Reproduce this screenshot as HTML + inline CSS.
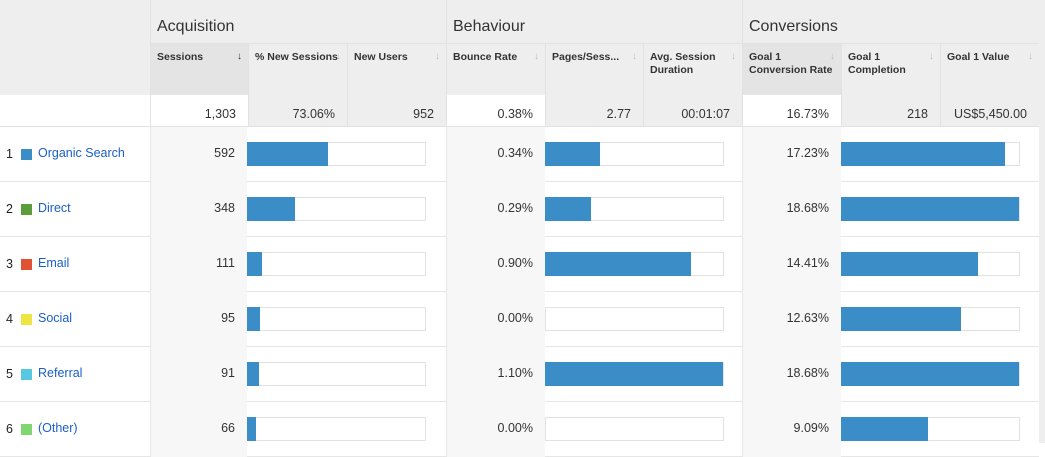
<!DOCTYPE html>
<html><head><meta charset="utf-8"><style>
body{margin:0;width:1045px;height:443px;overflow:hidden;background:#fff;font-family:"Liberation Sans",sans-serif;position:relative}
.a{position:absolute;box-sizing:border-box}
.grp{font-size:16px;color:#333;padding:18px 0 0 6px}
.sh{font-size:10.5px;font-weight:bold;color:#333;padding:7px 6px;line-height:13px}
.ar{position:absolute;right:6px;top:6px;color:#bbb;font-size:10px}
.num{font-size:12.5px;color:#333;text-align:right;padding-right:12px}
.lab{font-size:12.5px;color:#1a5fc7}
</style></head><body>
<div id="root"></div>
<script>
const channels=["Organic Search","Direct","Email","Social","Referral","(Other)"];
const chColors=["#3a8dc6","#5b9c3c","#e05232","#efe542","#58c8e0","#80d772"];
const sessions=[592,348,111,95,91,66];
const totalSessions=1303;
const bounce=["0.34%","0.29%","0.90%","0.00%","1.10%","0.00%"];
const pagesRel=[31,26,82,0,100,0];
const convRate=[17.23,18.68,14.41,12.63,18.68,9.09];
const totals=["1,303","73.06%","952","0.38%","2.77","00:01:07","16.73%","218","US$5,450.00"];
const heads=["Sessions","% New Sessions","New Users","Bounce Rate","Pages/Sess...","Avg. Session Duration","Goal 1 Conversion Rate","Goal 1 Completion","Goal 1 Value"];
const colX=[150,248,347,446,545,643,742,841,940,1039];
const R=document.getElementById('root');
function box(x,y,w,h,bg,cls,txt,name){const d=document.createElement('div');d.className='a '+(cls||'');
d.style.cssText+=`left:${x}px;top:${y}px;width:${w}px;height:${h}px;`+(bg?`background:${bg};`:'');
if(txt!==undefined)d.innerHTML=txt;


R.appendChild(d);return d;}
// header bg
box(0,0,1045,95,'#eeeeee','',undefined,'header-bg');
box(1039,95,6,348,'#eeeeee','',undefined,'right-gutter');
["Acquisition","Behaviour","Conversions"].forEach((g,i)=>{const b=box(colX[i*3],0,colX[i*3+3]-colX[i*3],44,null,'grp',g,'group-'+g.toLowerCase());b.style.borderLeft='1px solid #e2e2e2';b.style.borderBottom='1px solid #e2e2e2';});
heads.forEach((h,i)=>{const hl=(i==0||i==6);const b=box(colX[i],44,colX[i+1]-colX[i],51,hl?'#e4e4e4':null,'sh',h+`<span class="ar" style="color:${i==0?'#333':'#bbb'}">↓</span>`,'header-'+i);b.style.borderLeft='1px solid #e2e2e2';});
totals.forEach((t,i)=>{const w=(i==0||i==3||i==6);const b=box(colX[i],95,colX[i+1]-colX[i],32,w?'#fff':'#eeeeee','num',t,'total-'+i);b.style.paddingTop='12px';b.style.borderLeft='1px solid #e2e2e2';});
box(0,126,1039,1,'#e2e2e2','',undefined,'divider');
channels.forEach((c,r)=>{const y=127+r*55;
 box(0,y,1039,55,null,'',undefined,'row-'+r).style.borderBottom='1px solid #e6e6e6';
 box(6,y+20,12,16,null,'',String(r+1),'row-index').style.cssText+='font-size:12.5px;color:#222';
 box(21,y+22,11,11,chColors[r],'',undefined,'legend-swatch');
 const l=box(38,y+19,110,16,null,'lab',c,'channel-link');
 const s=box(150,y,97,55,'#f7f7f7','num',String(sessions[r]),'sessions-value');s.style.paddingTop='19px';s.style.borderLeft='1px solid #e6e6e6';
 const fr=box(247,y+15,179,24,'#fff','',undefined,'sessions-bar-track');fr.style.border='1px solid #e2e2e2';
 box(247,y+15,178*sessions[r]/totalSessions,24,'#3a8dc6','',undefined,'sessions-bar');
 const bb=box(446,y,99,55,'#f7f7f7','num',bounce[r],'bounce-value');bb.style.paddingTop='19px';bb.style.borderLeft='1px solid #e6e6e6';
 const f2=box(545,y+15,179,24,'#fff','',undefined,'pages-bar-track');f2.style.border='1px solid #e2e2e2';
 box(545,y+15,178*pagesRel[r]/100,24,'#3a8dc6','',undefined,'pages-bar');
 const cr=box(742,y,99,55,'#f7f7f7','num',convRate[r].toFixed(2)+'%','conv-value');cr.style.paddingTop='19px';cr.style.borderLeft='1px solid #e6e6e6';
 const f3=box(841,y+15,179,24,'#fff','',undefined,'conv-bar-track');f3.style.border='1px solid #e2e2e2';
 box(841,y+15,178*convRate[r]/Math.max(...convRate),24,'#3a8dc6','',undefined,'conv-bar');
});
</script>
</body></html>
